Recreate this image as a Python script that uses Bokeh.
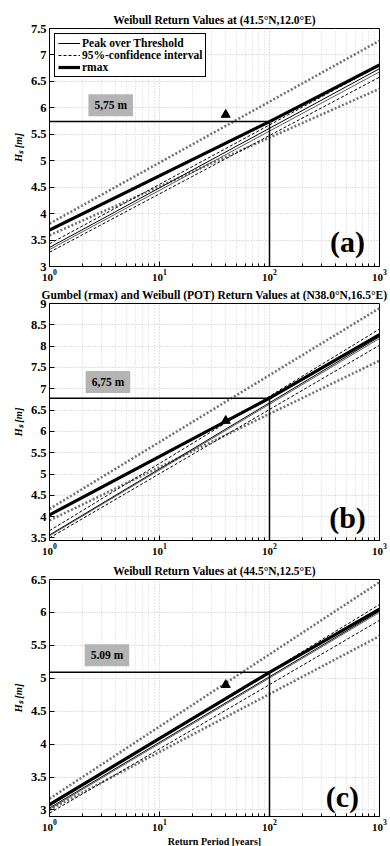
from bokeh.plotting import figure
from bokeh.layouts import column
from bokeh.models import (Legend, LegendItem, Label, FixedTicker, Range1d,
                          LogTickFormatter)
from bokeh.embed import file_html
from bokeh.resources import INLINE

FONT = "Liberation Serif"

# Return periods [years]
T_end = [1, 1000]
T_rmax = [1, 100, 1000]
T_ref = [1, 100]
x_major = [1, 10, 100, 1000]
x_minor = [2, 3, 4, 5, 6, 7, 8, 9, 20, 30, 40, 50, 60, 70, 80, 90,
           200, 300, 400, 500, 600, 700, 800, 900]

# ---------- panel (a) ----------
a_title = "Weibull Return Values at (41.5°N,12.0°E)"
a_rmax = [3.69, 5.74, 6.81]
a_rmax_ci_up = [3.81, 7.27]
a_rmax_ci_lo = [3.59, 6.36]
a_pot = [3.36, 6.74]
a_pot2 = [3.32, 6.68]
a_pot_ci_up = [3.43, 6.80]
a_pot_ci_lo = [3.27, 6.58]
a_rv100 = 5.74
a_rv_text = "5,75 m"
a_box_pos = (3.6, 6.05)
a_marker_T = [40]
a_marker_H = [5.87]
a_yticks = [3, 3.5, 4, 4.5, 5, 5.5, 6, 6.5, 7, 7.5]
a_ylabels = ["3", "3.5", "4", "4.5", "5", "5.5", "6", "6.5", "7", "7.5"]
a_yrange = (3, 7.5)
a_tag = "(a)"
a_tag_pos = (512, 3.47)

# ---------- panel (b) ----------
b_title = "Gumbel (rmax) and Weibull (POT) Return Values at (N38.0°N,16.5°E)"
b_rmax = [4.04, 6.78, 8.27]
b_rmax_ci_up = [4.18, 8.89]
b_rmax_ci_lo = [3.91, 7.66]
b_pot = [3.57, 8.22]
b_pot2 = [3.55, 8.18]
b_pot_ci_up = [3.67, 8.40]
b_pot_ci_lo = [3.50, 8.02]
b_rv100 = 6.78
b_rv_text = "6,75 m"
b_box_pos = (3.4, 7.16)
b_marker_T = [40]
b_marker_H = [6.25]
b_yticks = [3.5, 4, 4.5, 5, 5.5, 6, 6.5, 7, 7.5, 8, 8.5, 9]
b_ylabels = ["3.5", "4", "4.5", "5", "5.5", "6", "6.5", "7", "7.5", "8", "8.5", "9"]
b_yrange = (3.44, 9)
b_tag = "(b)"
b_tag_pos = (512, 3.97)

# ---------- panel (c) ----------
c_title = "Weibull Return Values at (44.5°N,12.5°E)"
c_rmax = [3.08, 5.09, 6.05]
c_rmax_ci_up = [3.17, 6.46]
c_rmax_ci_lo = [3.00, 5.64]
c_pot = [3.03, 6.02]
c_pot2 = [3.01, 6.00]
c_pot_ci_up = [3.06, 6.12]
c_pot_ci_lo = [2.95, 5.88]
c_rv100 = 5.09
c_rv_text = "5.09 m"
c_box_pos = (3.33, 5.35)
c_marker_T = [40]
c_marker_H = [4.90]
c_yticks = [3, 3.5, 4, 4.5, 5, 5.5, 6, 6.5]
c_ylabels = ["3", "3.5", "4", "4.5", "5", "5.5", "6", "6.5"]
c_yrange = (2.9, 6.5)
c_tag = "(c)"
c_tag_pos = (460, 3.21)


def make_panel(title, rmax, ci_up, ci_lo, pot, pot2, pot_up, pot_lo, rv100, rv_text,
               box_pos, mT, mH, yticks, ylabels, yrange, tag, tag_pos,
               top, frame_h, bottom, legend=False, xlabel=None):
    p = figure(width=390, frame_width=330, frame_height=frame_h,
               x_axis_type="log", x_range=Range1d(1, 1000),
               y_range=Range1d(*yrange), output_backend="svg",
               toolbar_location=None, min_border_left=49, min_border_right=11,
               min_border_top=top, min_border_bottom=bottom)
    p.title.text = title
    p.title.align = "center"
    p.title.text_font = FONT
    p.title.text_font_size = "11.5px"
    p.title.text_font_style = "bold"
    p.title.text_color = "black"
    p.title.offset = 0
    p.title.standoff = 6

    p.outline_line_color = "black"
    p.outline_line_width = 1
    p.outline_line_alpha = 1
    p.background_fill_color = "white"

    # axes
    p.xaxis.ticker = FixedTicker(ticks=x_major, minor_ticks=x_minor)
    p.xaxis.formatter = LogTickFormatter()
    p.yaxis.ticker = FixedTicker(ticks=yticks, minor_ticks=[])
    p.yaxis.major_label_overrides = {t: l for t, l in zip(yticks, ylabels)}
    for ax in (p.xaxis[0], p.yaxis[0]):
        ax.major_label_text_font = FONT
        ax.major_label_text_font_style = "bold"
        ax.major_label_text_color = "black"
        ax.major_tick_in = 5
        ax.major_tick_out = 0
        ax.minor_tick_in = 3
        ax.minor_tick_out = 0
        ax.axis_line_color = "black"
        ax.major_tick_line_color = "black"
        ax.minor_tick_line_color = "black"
        ax.major_label_standoff = 3
    p.xaxis.major_label_text_font_size = "11px"
    p.yaxis.major_label_text_font_size = "12.5px"
    p.yaxis.axis_label = "Hₛ [m]"
    p.yaxis.axis_label_text_font = FONT
    p.yaxis.axis_label_text_font_size = "10.5px"
    p.yaxis.axis_label_text_font_style = "bold italic"
    p.yaxis.axis_label_text_color = "black"
    p.yaxis.axis_label_standoff = 4
    if xlabel:
        p.xaxis.axis_label = xlabel
        p.xaxis.axis_label_text_font = FONT
        p.xaxis.axis_label_text_font_size = "10px"
        p.xaxis.axis_label_text_font_style = "bold"
        p.xaxis.axis_label_text_color = "black"
        p.xaxis.axis_label_standoff = 2

    # grids
    p.xgrid.grid_line_color = "#c0c0c0"
    p.xgrid.grid_line_dash = "1 2"
    p.xgrid.minor_grid_line_color = "#d4d4d4"
    p.xgrid.minor_grid_line_dash = "1 2"
    p.ygrid.grid_line_color = "#c0c0c0"
    p.ygrid.grid_line_dash = "1 2"

    # lines
    p.line(T_end, ci_up, line_color="#707070", line_width=2.5, line_dash="2 2")
    p.line(T_end, ci_lo, line_color="#707070", line_width=2.5, line_dash="2 2")
    r_pci = p.line(T_end, pot_up, line_color="black", line_width=1, line_dash="3 2")
    p.line(T_end, pot_lo, line_color="black", line_width=1, line_dash="3 2")
    r_pot = p.line(T_end, pot, line_color="black", line_width=1)
    p.line(T_end, pot2, line_color="#333333", line_width=0.8)
    r_rmax = p.line(T_rmax, rmax, line_color="black", line_width=3.2)

    # reference lines at 100 years
    p.line(T_ref, [rv100, rv100], line_color="black", line_width=1.5)
    p.line([100, 100], [yrange[0], rv100], line_color="black", line_width=1.5)

    # marker
    p.scatter(mT, mH, marker="triangle", size=9, color="black")

    # value box
    p.add_layout(Label(x=box_pos[0], y=box_pos[1], text=rv_text,
                       text_font=FONT, text_font_size="11.5px", text_font_style="bold",
                       text_color="black",
                       text_align="center", text_baseline="middle",
                       background_fill_color="#b4b4b4", background_fill_alpha=1,
                       padding=(6, 5)))
    # panel tag
    p.add_layout(Label(x=tag_pos[0], y=tag_pos[1], text=tag,
                       text_font=FONT, text_font_size="30px", text_font_style="bold",
                       text_color="black",
                       text_align="center", text_baseline="middle"))

    if legend:
        lg = Legend(items=[
            LegendItem(label="Peak over Threshold", renderers=[r_pot]),
            LegendItem(label="95%-confidence interval", renderers=[r_pci]),
            LegendItem(label="rmax", renderers=[r_rmax]),
        ], location="top_left")
        lg.margin = 5
        lg.padding = 3
        lg.spacing = 0
        lg.glyph_width = 22
        lg.glyph_height = 12
        lg.label_height = 12
        lg.label_standoff = 2
        lg.label_text_font = FONT
        lg.label_text_font_size = "11.5px"
        lg.label_text_font_style = "bold"
        lg.label_text_color = "black"
        lg.label_text_line_height = 1.0
        lg.border_line_color = "black"
        lg.border_line_width = 1
        lg.border_line_alpha = 1
        lg.background_fill_alpha = 1
        p.add_layout(lg)
    return p


pa = make_panel(a_title, a_rmax, a_rmax_ci_up, a_rmax_ci_lo, a_pot, a_pot2, a_pot_ci_up,
                a_pot_ci_lo, a_rv100, a_rv_text, a_box_pos, a_marker_T, a_marker_H,
                a_yticks, a_ylabels, a_yrange, a_tag, a_tag_pos,
                top=28, frame_h=238, bottom=17, legend=True)
pb = make_panel(b_title, b_rmax, b_rmax_ci_up, b_rmax_ci_lo, b_pot, b_pot2, b_pot_ci_up,
                b_pot_ci_lo, b_rv100, b_rv_text, b_box_pos, b_marker_T, b_marker_H,
                b_yticks, b_ylabels, b_yrange, b_tag, b_tag_pos,
                top=20, frame_h=237, bottom=17)
pc = make_panel(c_title, c_rmax, c_rmax_ci_up, c_rmax_ci_lo, c_pot, c_pot2, c_pot_ci_up,
                c_pot_ci_lo, c_rv100, c_rv_text, c_box_pos, c_marker_T, c_marker_H,
                c_yticks, c_ylabels, c_yrange, c_tag, c_tag_pos,
                top=22, frame_h=237, bottom=30, xlabel="Return Period [years]")

layout = column(pa, pb, pc, spacing=0)
open("out.html", "w").write(file_html(layout, INLINE))
